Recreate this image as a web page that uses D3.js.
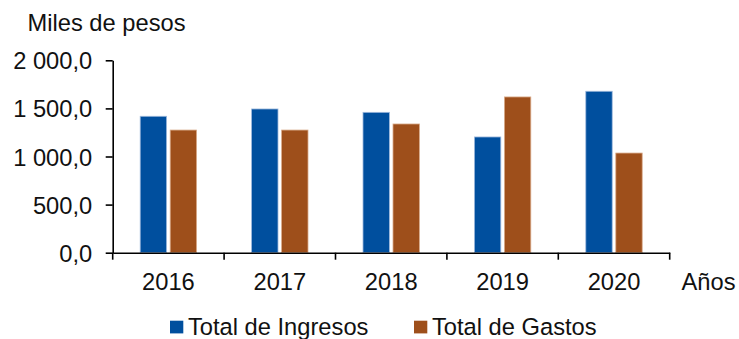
<!DOCTYPE html>
<html>
<head>
<meta charset="utf-8">
<script src="https://cdn.jsdelivr.net/npm/d3@7"></script>
<style>
  body { margin: 0; background: #fff; }
  svg text { font-family: "Liberation Sans", Arial, sans-serif; fill: #111; }
</style>
</head>
<body>
<svg id="chart" width="739" height="339"></svg>
<script>
const years = ["2016", "2017", "2018", "2019", "2020"];
const ingresos = [1418, 1494, 1459, 1203, 1678];
const gastos = [1275, 1275, 1338, 1619, 1036];
const seriesNames = ["Total de Ingresos", "Total de Gastos"];
const seriesColors = ["#004F9E", "#9E4F1B"];
const yTicks = [0, 500, 1000, 1500, 2000];

const FONT = "'Liberation Sans', Arial, sans-serif";
const FS = "23.7px";

const svg = d3.select("#chart");
const plotLeft = 112.7, plotRight = 669.7, plotTop = 60.3, plotBottom = 252.7;

const x = d3.scaleBand().domain(years).range([plotLeft, plotRight]).paddingInner(0).paddingOuter(0);
const inner = d3.scaleBand().domain([0, 1]).range([27.5, x.bandwidth() - 27.5]).paddingInner(0.12);
const y = d3.scaleLinear().domain([0, 2000]).range([plotBottom, plotTop]);

// Spanish-style number format: space thousands, comma decimals
const fmt = v => {
  const s = v.toFixed(1);
  const [i, d] = s.split(".");
  return i.replace(/\B(?=(\d{3})+(?!\d))/g, "\u00a0") + "," + d;
};

// bars
const data = years.map((yr, i) => ({ yr, vals: [ingresos[i], gastos[i]] }));
const g = svg.append("g");
data.forEach(d => {
  d.vals.forEach((v, k) => {
    g.append("rect")
      .attr("x", x(d.yr) + inner(k))
      .attr("y", y(v))
      .attr("width", inner.bandwidth())
      .attr("height", y(0) - y(v))
      .attr("fill", seriesColors[k])
      .attr("stroke", k === 0 ? "#9db8dc" : "#d9ab8a")
      .attr("stroke-width", 0.8);
  });
});

// y axis
const yAxis = svg.append("g")
  .attr("transform", `translate(${plotLeft},0)`)
  .call(d3.axisLeft(y).tickValues(yTicks).tickFormat(fmt).tickSize(7).tickSizeOuter(0));
yAxis.select(".domain").attr("stroke", "#000").attr("stroke-width", 1.6);
yAxis.selectAll(".tick line").attr("stroke", "#000").attr("stroke-width", 1.6);
yAxis.selectAll(".tick text").attr("x", -20.5).attr("dy", "0.36em")
  .style("font-size", FS).style("font-family", FONT).attr("fill", "#111");

// x axis
const xAxis = svg.append("g")
  .attr("transform", `translate(0,${plotBottom})`)
  .call(d3.axisBottom(x).tickSize(0).tickSizeOuter(0));
xAxis.select(".domain").attr("stroke", "#000").attr("stroke-width", 1.6);
xAxis.selectAll(".tick text").attr("y", 37.3).attr("dy", 0)
  .style("font-size", FS).style("font-family", FONT).attr("fill", "#111");
// boundary ticks between categories
const bounds = years.map(yr => x(yr)).concat([plotRight]);
xAxis.selectAll(".bound").data(bounds).join("line")
  .attr("x1", d => d).attr("x2", d => d).attr("y1", 0).attr("y2", 7)
  .attr("stroke", "#000").attr("stroke-width", 1.6);

// titles
svg.append("text").attr("x", 27.5).attr("y", 31).style("font-size", FS).text("Miles de pesos");
svg.append("text").attr("x", 681.5).attr("y", 290).style("font-size", FS).text("Años");

// legend
const legendX = [170, 414];
seriesNames.forEach((name, k) => {
  svg.append("rect").attr("x", legendX[k]).attr("y", 320.7).attr("width", 13.3).attr("height", 12.7)
    .attr("fill", seriesColors[k]);
  svg.append("text").attr("x", legendX[k] + 18).attr("y", 335).style("font-size", FS).text(name);
});
</script>
</body>
</html>
